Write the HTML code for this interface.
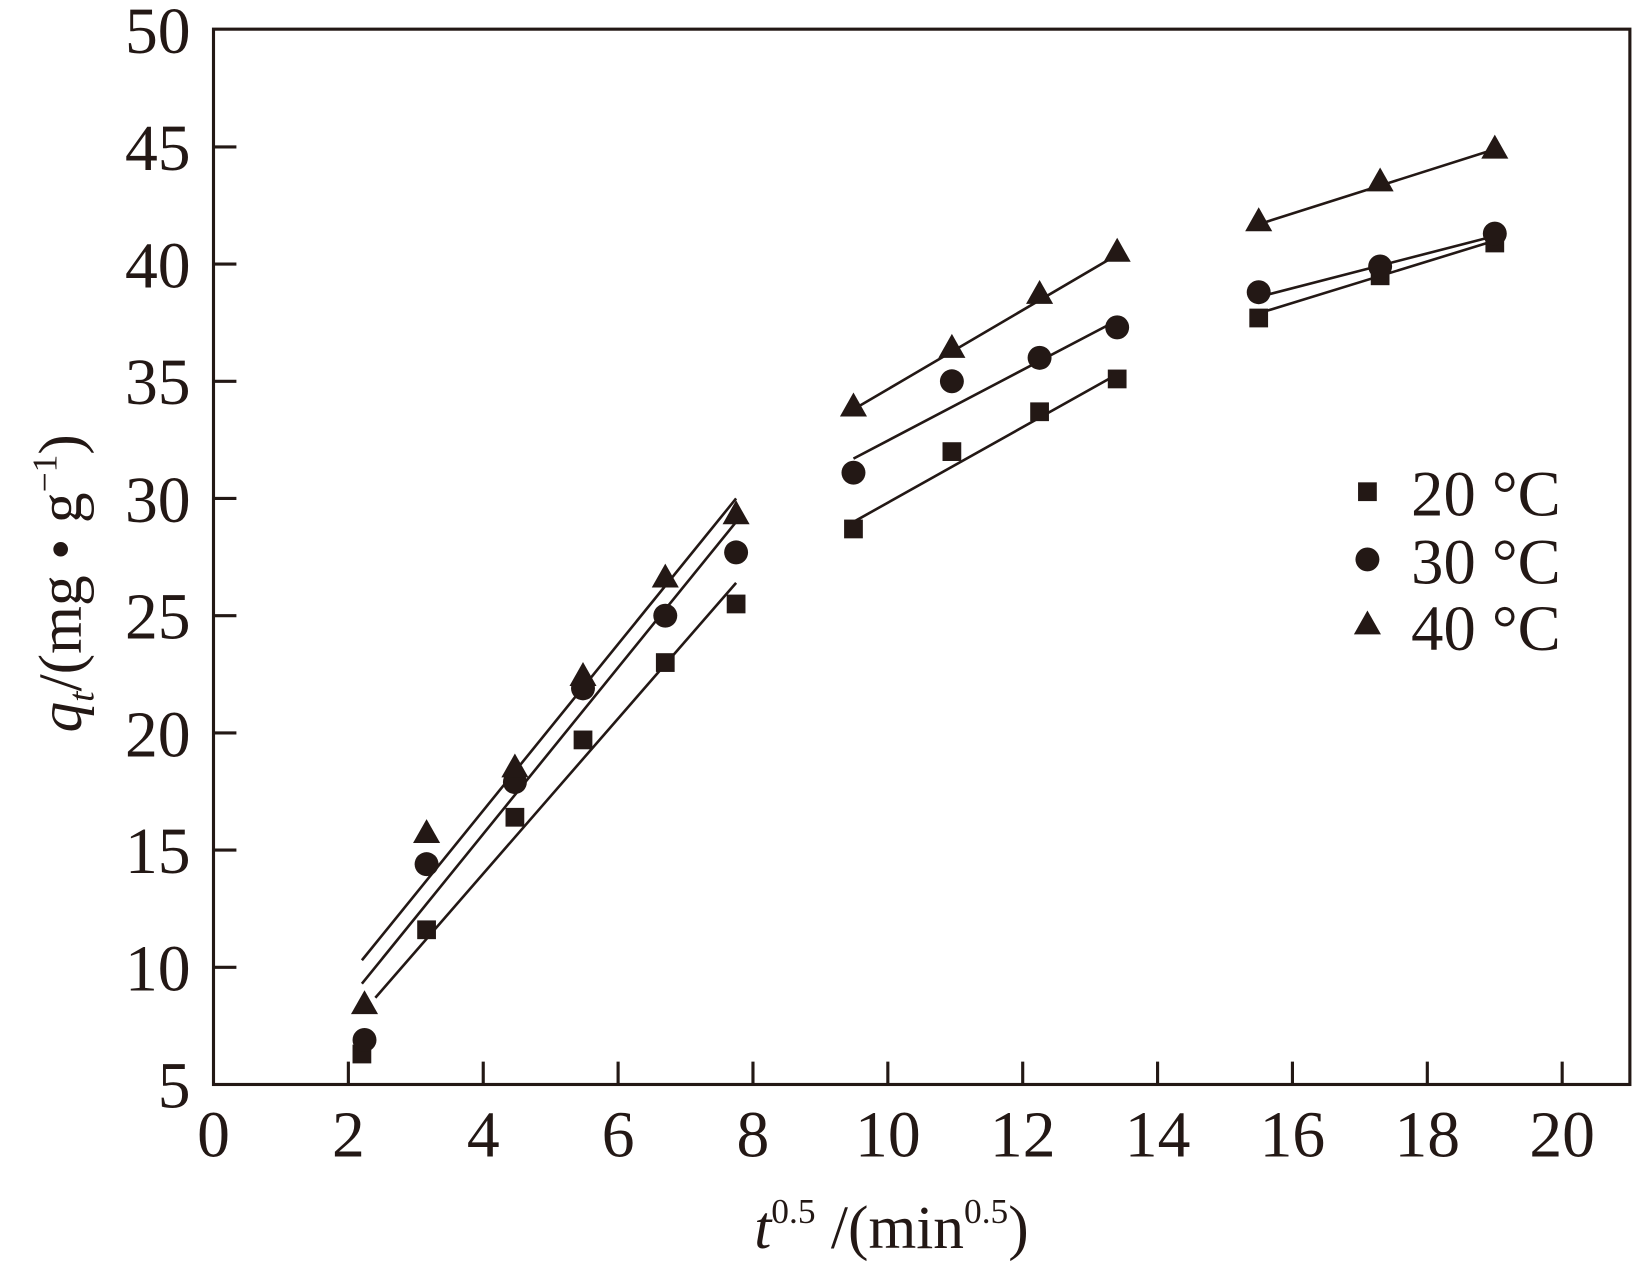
<!DOCTYPE html>
<html><head><meta charset="utf-8"><style>html,body{margin:0;padding:0;background:#fff}svg{display:block}</style></head>
<body>
<svg width="1633" height="1272" viewBox="0 0 1568 1221" preserveAspectRatio="none" xmlns="http://www.w3.org/2000/svg" font-family="'Liberation Serif', serif" fill="#231815">
<defs>
<rect id="s" x="-9" y="-9" width="18" height="18"/>
<circle id="c" r="11.5"/>
<polygon id="t" points="0,-14 13,9 -13,9"/>
</defs>
<g stroke="#231815" stroke-width="3" fill="none">
<rect x="205" y="28" width="1360" height="1013"/>
<path d="M334.5 1041v-22M464 1041v-22M593.5 1041v-22M723 1041v-22M852.5 1041v-22M982 1041v-22M1111.5 1041v-22M1241 1041v-22M1370.5 1041v-22M1500 1041v-22"/>
<path d="M205 928.5h22M205 816h22M205 703.5h22M205 591h22M205 478.5h22M205 366h22M205 253.5h22M205 141h22"/>
</g>
<g font-size="63" text-anchor="end">
<text x="183" y="1063">5</text><text x="183" y="951">10</text><text x="183" y="838">15</text><text x="183" y="726">20</text><text x="183" y="613">25</text><text x="183" y="501">30</text><text x="183" y="388">35</text><text x="183" y="276">40</text><text x="183" y="163">45</text><text x="183" y="51">50</text>
</g>
<g font-size="63" text-anchor="middle">
<text x="205" y="1110">0</text><text x="334.5" y="1110">2</text><text x="464" y="1110">4</text><text x="593.5" y="1110">6</text><text x="723" y="1110">8</text><text x="852.5" y="1110">10</text><text x="982" y="1110">12</text><text x="1111.5" y="1110">14</text><text x="1241" y="1110">16</text><text x="1370.5" y="1110">18</text><text x="1500" y="1110">20</text>
</g>
<text x="856" y="1198" font-size="59" text-anchor="middle"><tspan font-style="italic">t</tspan><tspan font-size="34" dy="-24">0.5</tspan><tspan dy="24"> /(min</tspan><tspan font-size="34" dy="-24">0.5</tspan><tspan dy="24">)</tspan></text>
<text transform="translate(78,560) rotate(-90)" font-size="59" text-anchor="middle"><tspan font-style="italic">q</tspan><tspan font-style="italic" font-size="36" dy="12">t</tspan><tspan dy="-12">/(mg • g</tspan><tspan font-size="34" dy="-24">−1</tspan><tspan dy="24">)</tspan></text>
<g stroke="#231815" stroke-width="2.5">
<line x1="360.4" y1="957.75" x2="706.8" y2="559.5"/>
<line x1="347.5" y1="944.25" x2="706.8" y2="501"/>
<line x1="347.5" y1="921.75" x2="706.8" y2="478.5"/>
<line x1="819.5" y1="501" x2="1072.7" y2="359.25"/>
<line x1="819.5" y1="440.25" x2="1072.7" y2="307.5"/>
<line x1="819.5" y1="393" x2="1072.7" y2="244.5"/>
<line x1="1208.6" y1="300.75" x2="1435.3" y2="231"/>
<line x1="1208.6" y1="285" x2="1435.3" y2="226.5"/>
<line x1="1208.6" y1="215.25" x2="1435.3" y2="143.25"/>
</g>
<g>
<use href="#s" x="347.5" y="1011.75"/><use href="#s" x="409.6" y="892.5"/><use href="#s" x="494.4" y="784.5"/><use href="#s" x="559.8" y="710.25"/><use href="#s" x="638.8" y="636"/><use href="#s" x="706.8" y="579.75"/><use href="#s" x="819.5" y="507.75"/><use href="#s" x="914" y="433.5"/><use href="#s" x="998.2" y="395.25"/><use href="#s" x="1072.7" y="363.75"/><use href="#s" x="1208.6" y="305.25"/><use href="#s" x="1325.2" y="264.75"/><use href="#s" x="1435.3" y="233.25"/>
<use href="#c" x="350" y="998.25"/><use href="#c" x="409.6" y="829.5"/><use href="#c" x="494.4" y="750.75"/><use href="#c" x="559.8" y="660.75"/><use href="#c" x="638.8" y="591"/><use href="#c" x="706.8" y="530.25"/><use href="#c" x="819.5" y="453.75"/><use href="#c" x="914" y="366"/><use href="#c" x="998.2" y="343.5"/><use href="#c" x="1072.7" y="314.25"/><use href="#c" x="1208.6" y="280.5"/><use href="#c" x="1325.2" y="255.75"/><use href="#c" x="1435.3" y="224.25"/>
<use href="#t" x="350" y="964.5"/><use href="#t" x="409.6" y="800.25"/><use href="#t" x="494.4" y="737.25"/><use href="#t" x="559.8" y="649.5"/><use href="#t" x="638.8" y="555"/><use href="#t" x="706.8" y="494.25"/><use href="#t" x="819.5" y="390.75"/><use href="#t" x="914" y="334.5"/><use href="#t" x="998.2" y="282.75"/><use href="#t" x="1072.7" y="242.25"/><use href="#t" x="1208.6" y="213"/><use href="#t" x="1325.2" y="174.75"/><use href="#t" x="1435.3" y="143.25"/>
</g>
<use href="#s" x="1313" y="472"/><use href="#c" x="1313" y="537"/><use href="#t" x="1313" y="600"/>
<g font-size="62">
<text x="1355" y="495">20 °C</text><text x="1355" y="560">30 °C</text><text x="1355" y="624">40 °C</text>
</g>
</svg>
</body></html>
